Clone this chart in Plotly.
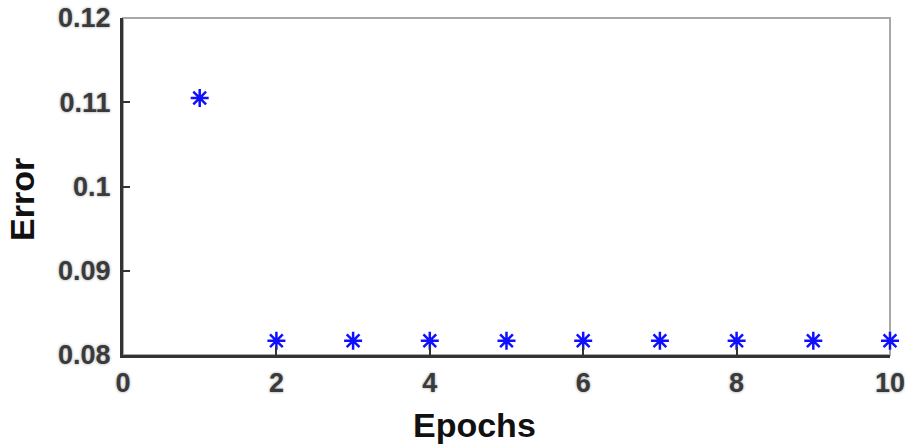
import plotly.graph_objects as go

epochs = [1, 2, 3, 4, 5, 6, 7, 8, 9, 10]
error = [0.1105, 0.0817, 0.0817, 0.0817, 0.0817, 0.0817, 0.0817, 0.0817, 0.0817, 0.0817]
x_ticks = [0, 2, 4, 6, 8, 10]
y_ticks = [0.08, 0.09, 0.10, 0.11, 0.12]
y_tick_labels = ["0.08", "0.09", "0.1", "0.11", "0.12"]

FONT = "Arial, Liberation Sans, sans-serif"
tickfont = dict(family=FONT, size=27, color="#3a3a3a", weight="bold",
                shadow="0px 0px 3px #9a9a9a")
titlefont = dict(family=FONT, size=34, color="#111111", weight="bold")

fig = go.Figure()
fig.add_trace(go.Scatter(
    x=epochs, y=error, mode="markers",
    marker=dict(symbol="asterisk-open", size=15, color="#1010ff",
                line=dict(color="#1010ff", width=2.5)),
    cliponaxis=False, showlegend=False,
))

# grey box (top and right edges)
fig.add_shape(type="rect", xref="paper", yref="paper", x0=0, y0=0, x1=1, y1=1,
              line=dict(color="#a8a8a8", width=2), layer="below")

fig.add_annotation(text="Epochs", xref="paper", yref="paper", x=0.458, y=0,
                   yshift=-70, xanchor="center", yanchor="middle",
                   showarrow=False, font=titlefont)
fig.add_annotation(text="Error", xref="paper", yref="paper", x=0, y=0.46,
                   xshift=-101, xanchor="center", yanchor="middle", textangle=-90,
                   showarrow=False, font=titlefont)

fig.update_layout(
    width=905, height=445,
    margin=dict(l=123, r=15, t=18, b=90),
    paper_bgcolor="white", plot_bgcolor="white",
    font=dict(family=FONT),
    xaxis=dict(
        range=[0, 10], tickvals=x_ticks, ticktext=[str(v) for v in x_ticks],
        showgrid=False, zeroline=False, showline=True, linecolor="#333333", linewidth=3,
        ticks="inside", ticklen=8, tickwidth=2, tickcolor="#333333",
        tickfont=tickfont, ticklabelstandoff=2, automargin=False,
        ticklabeloverflow="allow",
    ),
    yaxis=dict(
        range=[0.08, 0.12], tickvals=y_ticks, ticktext=y_tick_labels,
        showgrid=False, zeroline=False, showline=True, linecolor="#333333", linewidth=3,
        ticks="inside", ticklen=7, tickwidth=2, tickcolor="#333333",
        tickfont=tickfont, ticklabelstandoff=4, automargin=False,
        ticklabeloverflow="allow",
    ),
)

fig.write_html("out.html", config={"displayModeBar": False},
               post_script="document.body.style.margin='0';document.body.style.overflow='hidden';")
